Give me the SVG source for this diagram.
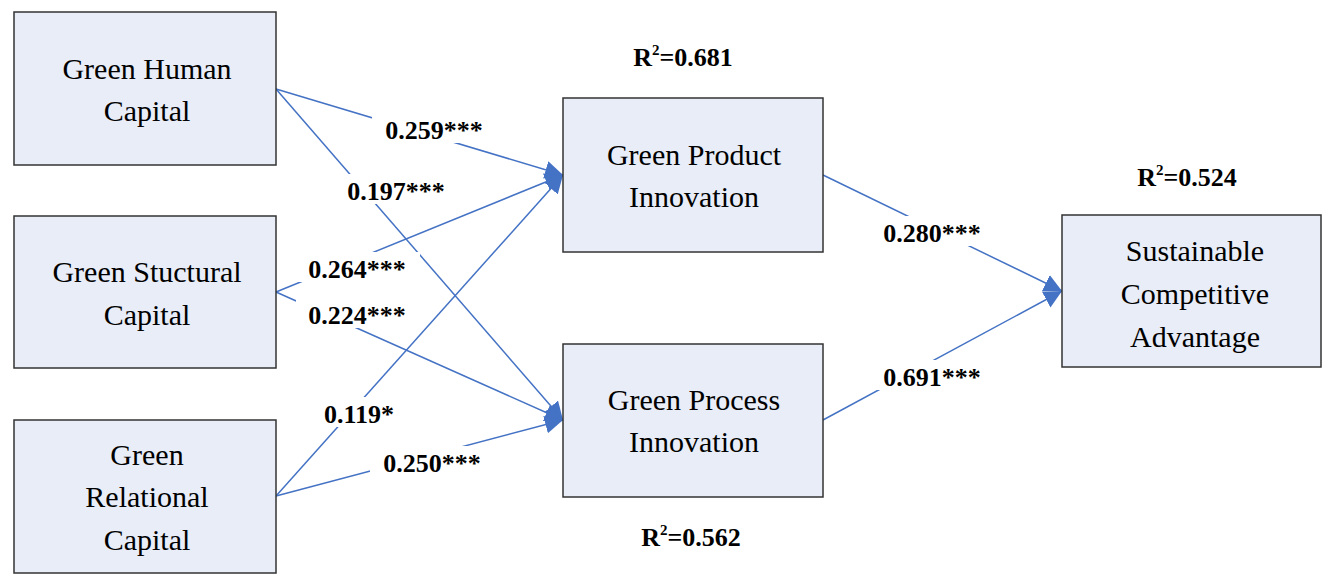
<svg xmlns="http://www.w3.org/2000/svg" width="1334" height="588" viewBox="0 0 1334 588">
<style>
.box{fill:#e8edf7;stroke:#333;stroke-width:1.5}
.nt{font-family:"Liberation Serif",serif;font-size:30px;fill:#000;text-anchor:middle}
.ln{stroke:#4472c4;stroke-width:1.5;fill:none}
.lb{font-family:"Liberation Serif",serif;font-size:26px;font-weight:bold;fill:#000;text-anchor:middle}
.bg{fill:#fff}
</style>
<defs>
<marker id="ah" markerUnits="userSpaceOnUse" markerWidth="20" markerHeight="20" refX="18" refY="9" orient="auto">
<path d="M0,0 L18,9 L0,18 Z" fill="#4472c4"/>
</marker>
</defs>
<rect width="1334" height="588" fill="#fff"/>
<g id="connectors">
<line class="ln" x1="276" y1="89" x2="563" y2="175" marker-end="url(#ah)"/>
<line class="ln" x1="276" y1="89" x2="563" y2="420" marker-end="url(#ah)"/>
<line class="ln" x1="276" y1="292" x2="563" y2="175" marker-end="url(#ah)"/>
<line class="ln" x1="276" y1="292" x2="563" y2="420" marker-end="url(#ah)"/>
<line class="ln" x1="276" y1="496" x2="563" y2="175" marker-end="url(#ah)"/>
<line class="ln" x1="276" y1="496" x2="563" y2="420" marker-end="url(#ah)"/>
<line class="ln" x1="823" y1="175" x2="1062" y2="291" marker-end="url(#ah)"/>
<line class="ln" x1="823" y1="420" x2="1062" y2="291" marker-end="url(#ah)"/>
<rect class="bg" x="372" y="113" width="124" height="30"/><text class="lb" x="434" y="139">0.259***</text>
<rect class="bg" x="320" y="174" width="156" height="30"/><text class="lb" x="396" y="200">0.197***</text>
<rect class="bg" x="296" y="252" width="124" height="30"/><text class="lb" x="357" y="278">0.264***</text>
<rect class="bg" x="296" y="298" width="124" height="30"/><text class="lb" x="357" y="324">0.224***</text>
<rect class="bg" x="320" y="397" width="78" height="30"/><text class="lb" x="359" y="423">0.119*</text>
<rect class="bg" x="370" y="446" width="124" height="30"/><text class="lb" x="432" y="472">0.250***</text>
<rect class="bg" x="872" y="216" width="124" height="30"/><text class="lb" x="932" y="242">0.280***</text>
<rect class="bg" x="872" y="360" width="124" height="30"/><text class="lb" x="932" y="386">0.691***</text>
</g>
<g id="r2">
<text class="lb" x="683" y="66">R<tspan font-size="15" dy="-11">2</tspan><tspan dy="11">=0.681</tspan></text>
<text class="lb" x="1187" y="186">R<tspan font-size="15" dy="-11">2</tspan><tspan dy="11">=0.524</tspan></text>
<text class="lb" x="691" y="546">R<tspan font-size="15" dy="-11">2</tspan><tspan dy="11">=0.562</tspan></text>
</g>
<g id="ghc"><rect class="box" x="14" y="12" width="262" height="153"/><text class="nt" x="147" y="79">Green Human</text><text class="nt" x="147" y="121">Capital</text></g>
<g id="gsc"><rect class="box" x="14" y="216" width="262" height="152"/><text class="nt" x="147" y="282">Green Stuctural</text><text class="nt" x="147" y="325">Capital</text></g>
<g id="grc"><rect class="box" x="14" y="420" width="262" height="153"/><text class="nt" x="147" y="465">Green</text><text class="nt" x="147" y="507">Relational</text><text class="nt" x="147" y="550">Capital</text></g>
<g id="gpi"><rect class="box" x="563" y="98" width="260" height="154"/><text class="nt" x="694" y="165">Green Product</text><text class="nt" x="694" y="207">Innovation</text></g>
<g id="gpri"><rect class="box" x="563" y="344" width="260" height="153"/><text class="nt" x="694" y="410">Green Process</text><text class="nt" x="694" y="452">Innovation</text></g>
<g id="sca"><rect class="box" x="1062" y="215" width="259" height="152"/><text class="nt" x="1195" y="261">Sustainable</text><text class="nt" x="1195" y="304">Competitive</text><text class="nt" x="1195" y="347">Advantage</text></g>
</svg>
